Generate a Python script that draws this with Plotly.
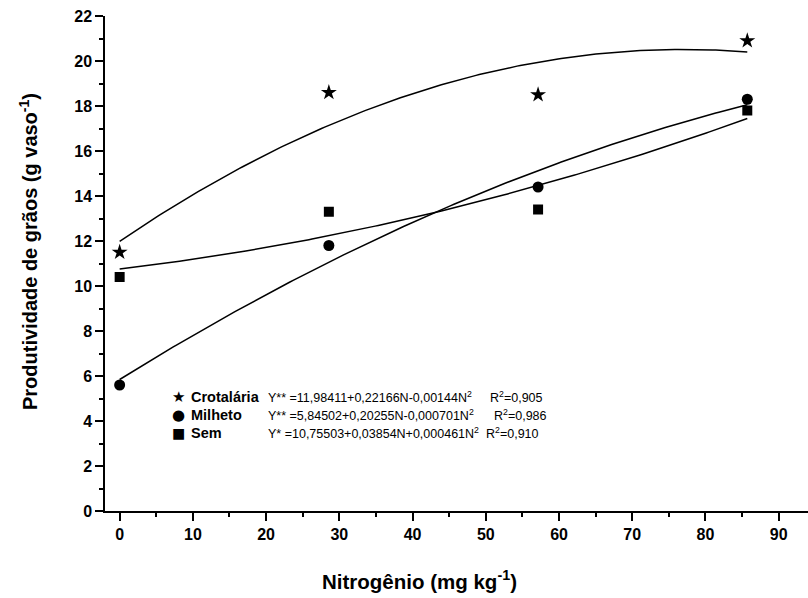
import numpy as np
import plotly.graph_objects as go

# ---- data ----
nitrogen = [0, 28.57, 57.14, 85.71]
crotalaria = [11.5, 18.6, 18.5, 20.9]
milheto = [5.6, 11.8, 14.4, 18.3]
sem = [10.4, 13.3, 13.4, 17.8]

# regression coefficients printed on the chart (b0, b1, b2)
coef_crotalaria = [11.98411, 0.22166, -0.00144]
coef_milheto = [5.84502, 0.20255, -0.000701]
coef_sem = [10.75503, 0.03854, 0.000461]

names = ["Crotalária", "Milheto", "Sem"]
legend_glyphs = ["★", "●", "■"]
equations = [
    "Y** =11,98411+0,22166N-0,00144N<sup>2</sup>",
    "Y** =5,84502+0,20255N-0,000701N<sup>2</sup>",
    "Y* =10,75503+0,03854N+0,000461N<sup>2</sup>",
]
r2_labels = ["R<sup>2</sup>=0,905", "R<sup>2</sup>=0,986", "R<sup>2</sup>=0,910"]

x_ticks = [0, 10, 20, 30, 40, 50, 60, 70, 80, 90]
y_ticks = [0, 2, 4, 6, 8, 10, 12, 14, 16, 18, 20, 22]

FONT = "Liberation Sans, Arial, sans-serif"

# plot-area geometry in pixels (for placing text)
L, R, T, B = 105, 808, 16, 511
W, H = R - L, B - T


def px(xp):
    return (xp - L) / W


def py(yp):
    return (B - yp) / H


fig = go.Figure()

nfit = np.linspace(min(nitrogen), max(nitrogen), 200)
series = [
    (crotalaria, coef_crotalaria, "star", 12),
    (milheto, coef_milheto, "circle", 11),
    (sem, coef_sem, "square", 10),
]
for (vals, coef, sym, sz), name in zip(series, names):
    yfit = coef[0] + coef[1] * nfit + coef[2] * nfit ** 2
    fig.add_trace(go.Scatter(x=nfit, y=yfit, mode="lines",
                             line=dict(color="black", width=1.5),
                             showlegend=False, hoverinfo="skip"))
for (vals, coef, sym, sz), name in zip(series, names):
    fig.add_trace(go.Scatter(x=nitrogen, y=vals, mode="markers",
                             marker=dict(symbol=sym, size=sz, color="black",
                                         line=dict(width=0)),
                             name=name, showlegend=False))

axis_common = dict(
    showline=True, linecolor="black", linewidth=1.5,
    ticks="outside", ticklen=8, tickwidth=1.5, tickcolor="black",
    showgrid=False, zeroline=False,
    tickfont=dict(family=FONT, size=16, color="black", weight="bold"),
)
fig.update_xaxes(range=[-2, 94], tickvals=x_ticks,
                 minor=dict(dtick=5, ticks="outside", ticklen=4,
                            tickwidth=1.5, tickcolor="black", showgrid=False),
                 **axis_common)
fig.update_yaxes(range=[0, 22], tickvals=y_ticks,
                 minor=dict(dtick=1, ticks="outside", ticklen=4,
                            tickwidth=1.5, tickcolor="black", showgrid=False),
                 **axis_common)

ann = []
row_px = [397, 415, 433]
r2_px = [488, 492, 484]
glyph_sizes = [15, 15, 14]
for i in range(3):
    yy = py(row_px[i])
    ann.append(dict(x=px(178), y=yy, xref="paper", yref="paper",
                    xanchor="center", yanchor="middle", showarrow=False,
                    text=legend_glyphs[i],
                    font=dict(family="DejaVu Sans", size=glyph_sizes[i], color="black")))
    ann.append(dict(x=px(189), y=yy, xref="paper", yref="paper",
                    xanchor="left", yanchor="middle", showarrow=False,
                    text="<b>%s</b>" % names[i],
                    font=dict(family=FONT, size=14.5, color="black")))
    ann.append(dict(x=px(266), y=yy, xref="paper", yref="paper",
                    xanchor="left", yanchor="middle", showarrow=False,
                    text=equations[i],
                    font=dict(family=FONT, size=12.5, color="black")))
    ann.append(dict(x=px(r2_px[i]), y=yy, xref="paper", yref="paper",
                    xanchor="left", yanchor="middle", showarrow=False,
                    text=r2_labels[i],
                    font=dict(family=FONT, size=12.5, color="black")))
# axis titles
ann.append(dict(x=px(419), y=py(580), xref="paper", yref="paper",
                xanchor="center", yanchor="middle", showarrow=False,
                text="<b>Nitrogênio (mg kg<sup>-1</sup>)</b>",
                font=dict(family=FONT, size=20.5, color="black")))
ann.append(dict(x=px(29), y=py(252), xref="paper", yref="paper",
                xanchor="center", yanchor="middle", showarrow=False, textangle=-90,
                text="<b>Produtividade de grãos (g vaso<sup>-1</sup>)</b>",
                font=dict(family=FONT, size=20, color="black")))

fig.update_layout(
    width=808, height=598,
    margin=dict(l=L, r=808 - R, t=T, b=598 - B),
    paper_bgcolor="white", plot_bgcolor="white",
    showlegend=False,
    annotations=ann,
)

fig.write_html("out.html")
